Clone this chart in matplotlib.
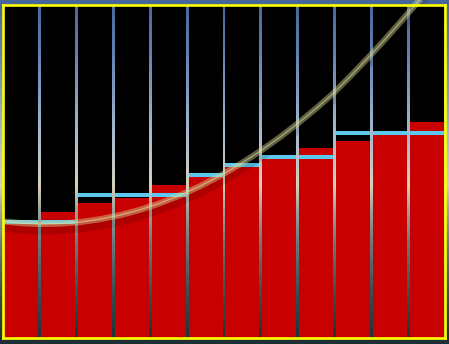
import numpy as np
import matplotlib
matplotlib.use("Agg")
import matplotlib.pyplot as plt
import matplotlib.patheffects as pe
from matplotlib.colors import LinearSegmentedColormap

# bar values (red), previous-level markers (light blue), trend curve
slots = list(range(12))
bar_values = [35.1, 37.9, 40.5, 42.1, 45.9, 48.4, 51.6, 53.7, 57.0, 59.2, 60.9, 64.9]
marker_values = [34.9, 34.9, 42.9, 42.9, 42.9, 48.9, 52.0, 54.3, 54.3, 61.6, 61.6, 61.6]
curve_x = [-0.473, 0.016, 0.505, 1.048, 1.591, 2.134, 2.677, 3.220, 3.763, 4.306, 4.849,
           5.392, 5.935, 6.478, 7.021, 7.564, 8.026, 8.460, 8.922, 9.383, 9.845, 10.279,
           10.687, 11.365]
curve_y = [34.96, 34.42, 34.18, 34.29, 34.76, 35.61, 36.84, 38.44, 40.42, 42.79, 45.52,
           48.64, 52.11, 55.98, 60.24, 64.86, 69.09, 73.3, 78.4, 83.7, 89.2, 94.6,
           99.8, 108.7]
y_top = 100

fig = plt.figure(figsize=(4.49, 3.44), dpi=100)

# sky photo-like backdrop
bg = fig.add_axes([0, 0, 1, 1])
sky = LinearSegmentedColormap.from_list("sky", [
    (0.00, "#46669a"), (0.15, "#5f80b0"), (0.35, "#9ab2cc"), (0.48, "#c4c8c8"),
    (0.54, "#d6d0bc"), (0.60, "#a8a8a0"), (0.70, "#6e7c80"), (0.85, "#3a4e54"),
    (1.00, "#1b2f35")])
bg.imshow(np.linspace(0, 1, 256).reshape(-1, 1), cmap=sky, aspect="auto",
          extent=[0, 1, 0, 1], origin="upper")
bg.set_axis_off()

ax = fig.add_axes([3 / 449, 6 / 344, 442 / 449, 333.5 / 344])
ax.set_facecolor("none")
w = 0.92
ax.bar(slots, [y_top] * len(slots), width=w, color="black", zorder=1)
ax.bar(slots, bar_values, width=w, color="#c80000", zorder=2)
ax.hlines(marker_values, np.array(slots) - w / 2, np.array(slots) + w / 2,
          colors="#5cc8ee", linewidth=2.9, zorder=3)

ax.plot(curve_x, curve_y, color="#d4d490", alpha=0.45, linewidth=4.4, zorder=4,
        solid_capstyle="butt", clip_on=False,
        path_effects=[pe.SimpleLineShadow(offset=(0, -4), shadow_color="black",
                                          alpha=0.12, linewidth=7), pe.Normal()])
ax.plot(curve_x, curve_y, color="#e6e6b0", alpha=0.5, linewidth=1.0, zorder=5,
        clip_on=False)

ax.set_xlim(-0.5, 11.5)
ax.set_ylim(0, y_top)
ax.set_xticks([])
ax.set_yticks([])
for s in ax.spines.values():
    s.set_color("#ffff00")
    s.set_linewidth(1.9)
    s.set_zorder(6)

fig.savefig("out.png", dpi=100)
